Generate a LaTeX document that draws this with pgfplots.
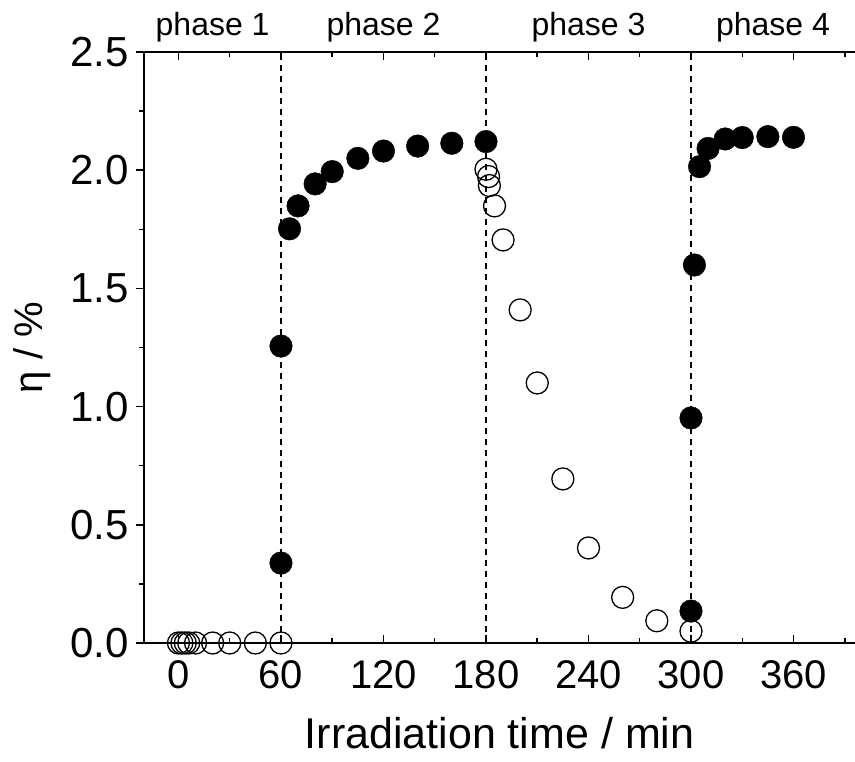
\documentclass[border=0pt]{standalone}
\usepackage{fontspec}
\setmainfont{Liberation Sans}
\usepackage{pgfplots}
\pgfplotsset{compat=1.18}
\begin{document}
\begin{tikzpicture}[x=1pt,y=1pt]
\useasboundingbox (0,0) rectangle (855,762);
\begin{axis}[
  at={(144.3pt,119pt)}, anchor=south west,
  scale only axis, width=710.7pt, height=591pt,
  xmin=-20, xmax=396, ymin=0, ymax=2.5,
  axis x line*=box, axis y line*=left,
  axis line style={line width=2pt,-},
  clip=false,
  xtick={0,60,...,360},
  minor xtick={30,90,...,390},
  ytick={0,0.5,...,2.5},
  minor ytick={0.25,0.75,...,2.25},
  xtick align=inside, ytick align=outside,
  major tick length=8pt, minor tick length=5pt,
  tick style={line width=1.5pt,black},
  /pgf/number format/assume math mode=true,
  xticklabel style={font=\fontsize{40}{44}\selectfont, yshift=-14pt},
  yticklabel style={font=\fontsize{42}{46}\selectfont, xshift=-4pt,
     /pgf/number format/.cd, fixed, fixed zerofill, precision=1, /tikz/.cd},
  xlabel={Irradiation time / min},
  xlabel style={font=\fontsize{43}{48}\selectfont, at={(axis description cs:0.5,0)}, anchor=base, yshift=-106pt},
]
\addplot[black, line width=1.3pt, dash pattern=on 6pt off 5pt] coordinates {(60,0) (60,2.5)};
\addplot[black, line width=1.3pt, dash pattern=on 6pt off 5pt] coordinates {(180,0) (180,2.5)};
\addplot[black, line width=1.3pt, dash pattern=on 6pt off 5pt] coordinates {(300,0) (300,2.5)};
\addplot[only marks, mark=*, mark size=11.3pt, mark options={draw=black, fill=black}] coordinates {
(60,0.338)(60,1.256)(65,1.752)(70,1.849)(80,1.942)(90,1.994)(105,2.050)(120,2.081)(140,2.102)(160,2.114)(180,2.121)
(300,0.135)(300,0.952)(302,1.599)(305,2.015)(310,2.092)(320,2.132)(330,2.138)(345,2.142)(360,2.139)
};
\addplot[only marks, mark=o, mark size=11pt, mark options={draw=black, line width=1.3pt}] coordinates {
(0,0)(2,0)(4,0)(6,0)(10,0)(20,0)(30,0)(45,0)(60,0)
(180,2.004)(181.5,1.973)(182,1.935)(185,1.849)(190,1.705)(200,1.409)(210,1.10)(225,0.694)(240,0.402)(260,0.193)(280,0.094)(300,0.05)
};
\node[font=\fontsize{32}{36}\selectfont, anchor=base, yshift=16pt] at (axis cs:20,2.5) {phase 1};
\node[font=\fontsize{32}{36}\selectfont, anchor=base, yshift=16pt] at (axis cs:120,2.5) {phase 2};
\node[font=\fontsize{32}{36}\selectfont, anchor=base, yshift=16pt] at (axis cs:240,2.5) {phase 3};
\node[font=\fontsize{32}{36}\selectfont, anchor=base, yshift=16pt] at (axis cs:348,2.5) {phase 4};
\node[font=\fontsize{40}{46}\selectfont, rotate=90, anchor=center] at (axis cs:-85.5,1.25) {η / \%};
\end{axis}
\end{tikzpicture}
\end{document}
